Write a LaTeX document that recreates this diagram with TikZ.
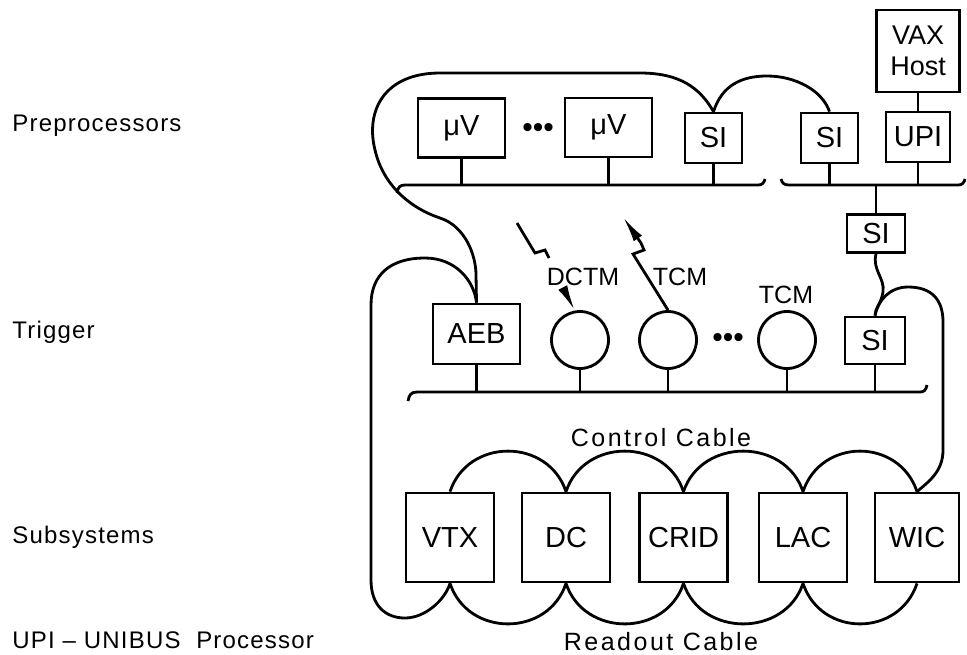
\documentclass[tikz,border=0pt]{standalone}
\usepackage{fontspec}
\setmainfont{Liberation Sans}
\newfontfamily\leftfam[LetterSpace=5]{Liberation Sans}
\newfontfamily\cabfam[LetterSpace=10]{Liberation Sans}
\usetikzlibrary{arrows.meta,calc}
\begin{document}
\begin{tikzpicture}[x=0.5pt,y=-0.5pt,line width=1.4pt,
  bx/.style 2 args={draw, minimum width=#1*0.5pt, minimum height=#2*0.5pt, inner sep=0pt, font=\fontsize{14.5}{16}\selectfont},
  circ/.style={draw, circle, minimum size=57*0.5pt, inner sep=0pt},
  lab/.style={anchor=west, inner sep=0pt, font=\leftfam\fontsize{12}{14}\selectfont},
  cab/.style={inner sep=0pt, font=\cabfam\fontsize{12.5}{14}\selectfont},
  sig/.style={inner sep=0pt, font=\fontsize{12.5}{14}\selectfont},
  dots/.style={inner sep=0pt, font=\fontsize{15}{16}\selectfont},
  wedge/.style={-{Latex[length=13pt,width=5pt]}}]
\useasboundingbox (0,0) rectangle (967,654);
% left labels
\node[lab] (lpre) at (11,126) {Preprocessors};
\node[lab] (ltrg) at (11,332) {Trigger};
\node[lab] (lsub) at (11,537) {Subsystems};
\node[lab] (lupi) at (11,640) {UPI – UNIBUS\ \ Processor};
% preprocessor row
\node[bx={87}{59}] (mv1) at (461.5,128) {μV};
\node[dots] (d1) at (538,130) {•••};
\node[bx={87}{59}] (mv2) at (608.5,127.5) {μV};
\node[bx={57}{50}] (sil) at (713.5,138) {SI};
\node[bx={57}{50}] (sir) at (829.5,138) {SI};
\node[bx={64}{50}] (upi) at (918,137) {UPI};
\node[bx={83}{82}, align=center, font=\fontsize{13.5}{15.5}\selectfont] (vax) at (918,51) {VAX\\Host};
\node[bx={58}{38}] (sim) at (876,233.5) {SI};
% trigger row
\node[bx={87}{60}] (aeb) at (476.5,334) {AEB};
\node[circ] (c1) at (580,340) {};
\node[circ] (c2) at (668,340) {};
\node[dots] (d2) at (728,340) {•••};
\node[circ] (c3) at (787,340) {};
\node[bx={60}{47}] (sit) at (875,340.5) {SI};
\node[sig] (dctm) at (583,277) {DCTM};
\node[sig] (tcm1) at (680,277) {TCM};
\node[sig] (tcm2) at (786,295) {TCM};
% subsystems row
\node[bx={88}{89}] (vtx) at (450,537.5) {VTX};
\node[bx={88}{89}] (dc) at (566,537.5) {DC};
\node[bx={88}{89}] (crid) at (683.5,537.5) {CRID};
\node[bx={88}{89}] (lac) at (803,537.5) {LAC};
\node[bx={84}{89}] (wic) at (917,537.5) {WIC};
\node[cab] (cc) at (661,438) {Control Cable};
\node[cab] (rc) at (661,642) {Readout Cable};
% top buses
\coordinate (tb) at (0,185);
\draw (397,193) .. controls (398,187) and (400,185) .. (405,185) -- (758,185) .. controls (762,185) and (764,183) .. (765,179);
\draw (781,179) .. controls (782,183) and (784,185) .. (789,185) -- (958,185) .. controls (962,185) and (964,183) .. (965,179);
\foreach \n in {mv1,mv2,sil,sir,upi} \draw (\n.south) -- (\n.south |- tb);
\draw (vax.south) -- (upi.north);
\draw (sim.north) -- (sim.north |- tb);
% trigger bus
\coordinate (gb) at (0,392);
\draw (408,401) .. controls (409,395) and (411,392) .. (417,392) -- (920,392) .. controls (924,392) and (926,390) .. (927,385);
\foreach \n in {aeb,c1,c2,c3,sit} \draw (\n.south) -- (\n.south |- gb);
% serial loops
\draw (sil.north) .. controls (700,88) and (680,73) .. (640,73) -- (440,73) .. controls (385,73) and (365,110) .. (375,150) .. controls (383,185) and (410,208) .. (440,218) .. controls (465,226) and (476,255) .. (476,275) -- (aeb.north);
\draw (sil.north) .. controls (722,85) and (742,76) .. (767,76) .. controls (795,76) and (822,90) .. (sir.north);
\draw (aeb.north) .. controls (474,280) and (455,258) .. (425,258) .. controls (390,258) and (371,275) .. (371,305) -- (371,580) .. controls (371,605) and (385,618) .. (405,618) .. controls (425,618) and (445,600) .. (vtx.south);
\draw (sit.north) .. controls (878,300) and (890,287) .. (908,287) .. controls (932,287) and (943,300) .. (943,322) -- (943,450) .. controls (943,472) and (928,482) .. (wic.north);
\draw (sim.south) .. controls (872,270) and (885,278) .. (883,292) .. controls (881,304) and (875,308) .. (sit.north);
% cable arcs
\foreach \a/\b in {vtx/dc,dc/crid,crid/lac,lac/wic} {
  \draw (\a.north) .. controls ($(\a.north)+(18,-54)$) and ($(\b.north)+(-18,-54)$) .. (\b.north);
  \draw (\a.south) .. controls ($(\a.south)+(18,54)$) and ($(\b.south)+(-18,54)$) .. (\b.south);
}
% lightning arrows
\draw (517,223) -- (535,253) -- (545,250) -- (549,258);
\draw[wedge] (563,288) -- (c1.100);
\draw[wedge] (c2.north) -- (633,254) -- (644,250) -- (641,243) -- (623,217);
\end{tikzpicture}
\end{document}
